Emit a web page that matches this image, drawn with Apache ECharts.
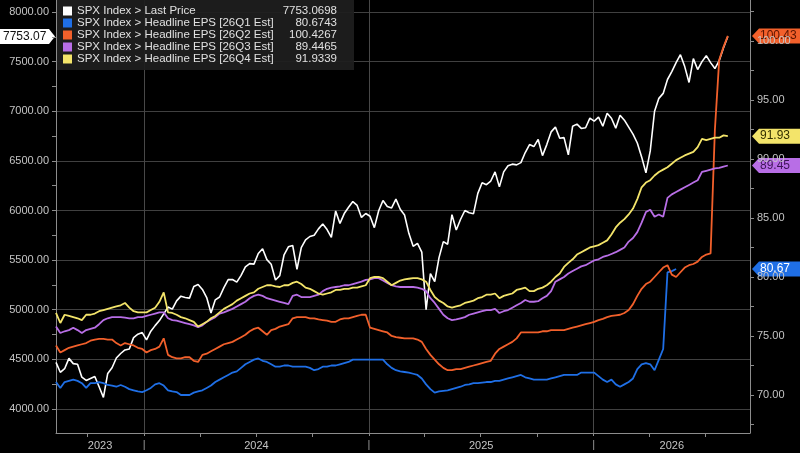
<!DOCTYPE html>
<html><head><meta charset="utf-8">
<script src="https://cdn.jsdelivr.net/npm/echarts@6/dist/echarts.min.js"></script>
<style>html,body{margin:0;padding:0;background:#000;}#c{width:800px;height:453px;}</style>
</head><body><div id="c"></div>
<script>
// ---------- data (weekly, starting 2023-08-11) ----------
const startDate = '2023-08-11';
const axisStart = '2023-08-11';
const axisEnd = '2026-09-12';
const seriesNames = [
  'SPX Index > Last Price',
  'SPX Index > Headline EPS [26Q1 Est]',
  'SPX Index > Headline EPS [26Q2 Est]',
  'SPX Index > Headline EPS [26Q3 Est]',
  'SPX Index > Headline EPS [26Q4 Est]'
];
const seriesColors = ['#ffffff', '#1f6fe6', '#f2602b', '#b86ee6', '#f3e46a'];
const lastValues = [7753.0698, 80.6743, 100.4267, 89.4465, 91.9339];

const price = [
  4470,4370,4406,4510,4457,4450,4320,4288,4308,4327,
  4224,4117,4358,4415,4514,4559,4595,4604,4719,4754,
  4770,4697,4784,4840,4891,4959,5027,5006,5089,5137,
  5124,5117,5234,5254,5204,5123,4967,5100,5128,5223,
  5303,5305,5278,5347,5431,5465,5460,5567,5615,5505,
  5459,5300,5344,5554,5634,5648,5408,5626,5703,5738,
  5751,5815,5864,5808,5729,5995,5870,5969,6032,6090,
  6051,5930,5970,5942,5827,5997,6101,6041,6026,6115,
  6013,5955,5770,5639,5668,5581,5000,5363,5283,5525,
  5686,5660,5958,5803,5912,6000,5977,5968,6173,6279,
  6260,6297,6389,6238,6389,6450,6467,6460,6482,6584,
  6664,6644,6716,6553,6664,6792,6840,6728,6734,6560,
  6849,6870,6827,6834,6930,6900,6940,6850,6980,6930,
  6830,6960,6910,6840,6770,6680,6540,6380,6600,7000,
  7130,7180,7320,7400,7490,7570,7450,7290,7530,7420,
  7500,7560,7490,7430,7510,7640,7753.07
];
const eps26Q1 = [
  71.1,70.6,71.1,71.2,71.3,71.2,71.0,70.6,71.0,71.0,
  71.1,71.0,70.85,70.8,70.7,70.85,70.7,70.5,70.4,70.3,
  70.25,70.4,70.6,70.9,71.0,70.8,70.4,70.3,70.25,70.0,
  70.0,70.0,70.2,70.3,70.4,70.6,70.8,71.1,71.3,71.5,
  71.7,71.9,72.0,72.3,72.6,72.8,73.0,73.1,72.9,72.8,
  72.6,72.4,72.4,72.5,72.5,72.4,72.4,72.4,72.4,72.3,
  72.1,72.2,72.4,72.4,72.5,72.5,72.6,72.7,72.8,73.0,
  73.0,73.0,73.0,73.0,73.0,73.0,73.0,72.6,72.3,72.1,
  72.0,71.95,71.9,71.8,71.7,71.4,70.9,70.5,70.2,70.3,
  70.35,70.4,70.5,70.6,70.7,70.85,70.9,71.0,71.0,71.05,
  71.1,71.1,71.2,71.2,71.3,71.4,71.5,71.6,71.7,71.5,
  71.4,71.3,71.3,71.3,71.3,71.4,71.5,71.6,71.7,71.7,
  71.7,71.7,71.9,71.9,71.9,71.9,71.6,71.3,71.1,71.3,
  70.9,70.7,70.9,71.1,71.4,72.2,72.6,72.7,72.6,72.1,
  73.0,73.9,80.4,80.5,80.6743
];
const eps26Q2 = [
  74.2,73.6,73.8,74.0,74.1,74.2,74.3,74.4,74.6,74.7,
  74.75,74.75,74.7,74.7,74.4,74.2,74.4,74.3,74.2,74.0,
  73.9,73.6,73.8,73.9,74.1,74.8,73.4,73.2,73.1,73.1,
  73.2,73.2,72.9,72.8,73.4,73.5,73.7,73.9,74.1,74.3,
  74.4,74.5,74.7,74.9,75.1,75.4,75.6,75.7,75.4,75.1,
  75.5,75.6,75.8,75.9,76.0,76.5,76.6,76.6,76.6,76.5,
  76.5,76.4,76.35,76.3,76.2,76.2,76.4,76.5,76.5,76.6,
  76.7,76.8,76.8,75.7,75.6,75.5,75.4,75.3,75.0,74.9,
  74.85,74.8,74.8,74.8,74.7,74.5,73.9,73.4,73.0,72.6,
  72.3,72.1,72.1,72.2,72.2,72.3,72.4,72.5,72.6,72.7,
  72.8,72.9,73.5,73.9,74.1,74.3,74.5,74.8,75.3,75.3,
  75.3,75.3,75.3,75.4,75.4,75.5,75.5,75.5,75.5,75.6,
  75.7,75.8,75.9,76.0,76.1,76.2,76.35,76.45,76.6,76.7,
  76.75,76.8,76.95,77.2,77.7,78.4,79.0,79.4,79.6,80.0,
  80.4,80.8,81.0,80.2,80.0,80.4,80.8,81.0,81.1,81.3,
  81.7,81.9,82.0,92.5,98.4,99.5,100.4267
];
const eps26Q3 = [
  75.8,75.25,75.4,75.5,75.7,75.5,75.25,75.5,75.6,75.7,
  76.0,76.35,76.5,76.6,76.6,76.6,76.55,76.5,76.5,76.6,
  76.6,76.7,76.8,76.9,77.0,77.0,76.5,76.35,76.3,76.2,
  76.1,76.0,75.9,75.75,75.9,76.2,76.4,76.6,76.9,77.0,
  77.15,77.3,77.5,77.7,77.9,78.2,78.4,78.5,78.4,78.2,
  78.1,78.0,77.9,77.8,77.7,78.4,78.5,78.3,78.3,78.3,
  78.4,78.5,78.8,79.0,79.1,79.15,79.2,79.3,79.3,79.4,
  79.5,79.6,79.75,79.8,79.9,79.9,79.7,79.5,79.3,79.2,
  79.15,79.15,79.15,79.15,79.1,79.0,78.8,78.2,77.8,77.3,
  76.8,76.5,76.35,76.4,76.5,76.6,76.8,76.9,77.0,77.1,
  77.2,77.2,77.3,76.95,77.1,77.2,77.4,77.6,77.8,78.05,
  77.9,77.9,77.95,78.2,78.4,78.8,79.6,79.8,80.0,80.3,
  80.5,80.7,80.9,81.0,81.2,81.4,81.5,81.7,81.8,81.95,
  82.1,82.3,82.5,83.0,83.3,83.8,84.6,85.5,85.7,85.1,
  85.3,85.1,86.7,87.0,87.2,87.4,87.6,87.8,88.0,88.2,
  88.9,89.0,89.1,89.2,89.25,89.35,89.4465
];
const eps26Q4 = [
  76.95,76.1,76.8,76.7,76.6,76.5,76.35,76.8,76.8,76.9,
  77.1,77.2,77.3,77.4,77.5,77.6,77.8,77.4,77.1,77.0,
  77.0,77.0,77.2,77.4,77.9,78.7,77.0,76.95,76.8,76.6,
  76.5,76.35,76.2,75.8,76.0,76.2,76.5,76.7,77.0,77.3,
  77.5,77.7,78.0,78.2,78.4,78.6,78.7,79.0,79.15,79.3,
  79.3,79.2,79.15,79.3,79.3,79.5,79.6,79.4,79.1,79.0,
  78.8,78.6,78.5,78.6,78.7,78.9,78.9,79.0,79.0,79.1,
  79.1,79.2,79.3,79.9,80.0,80.0,79.9,79.6,79.3,79.5,
  79.7,79.8,79.85,79.9,79.9,79.8,79.6,78.9,78.3,78.0,
  77.8,77.5,77.4,77.5,77.6,77.8,77.9,78.0,78.2,78.3,
  78.5,78.5,78.6,78.2,78.4,78.5,78.6,78.9,79.0,79.1,
  78.8,78.8,79.0,79.1,79.3,79.6,80.0,80.3,80.85,81.2,
  81.5,81.9,82.1,82.3,82.5,82.6,82.7,82.9,83.1,83.6,
  84.2,84.6,84.9,85.3,85.8,86.6,87.6,88.0,88.2,88.6,
  88.9,89.1,89.3,89.6,89.9,90.1,90.3,90.45,90.6,91.0,
  91.7,91.6,91.7,91.8,91.8,92.0,91.9339
];

// ---------- axis ticks ----------
const priceLabelValues = [4000,4500,5000,5500,6000,6500,7000,7500,8000];
const priceMinorTicks = [4250,4750,5250,5750,6250,6750,7250,7750];
const priceRange = [3758, 8121];
const epsLabelValues = [70,75,80,85,90,95,100];
const epsTickValues = [67.5,70,72.5,75,77.5,80,82.5,85,87.5,90,92.5,95,97.5,100,102.5];
const epsRange = [66.78, 103.47];
const yearBoundaries = ['2024-01-01','2025-01-01','2026-01-01'];
const quarterStarts = ['2023-10-01','2024-04-01','2024-07-01','2024-10-01','2025-04-01','2025-07-01','2025-10-01','2026-04-01','2026-07-01'];
const yearLabels = [2023, 2024, 2025, 2026];

// ---------- helpers ----------
function toYear(ts) {
  const d = new Date(ts);
  const y = d.getUTCFullYear();
  const s = Date.UTC(y, 0, 1), e = Date.UTC(y + 1, 0, 1);
  return y + (d.getTime() - s) / (e - s);
}
const parse = s => Date.parse(s + 'T00:00:00Z');
const t0 = parse(startDate);
const weekX = price.map((_, i) => toYear(t0 + i * 7 * 86400000));
const xMin = toYear(parse(axisStart));
const xMax = toYear(parse(axisEnd));
const yearVals = yearBoundaries.map(s => toYear(parse(s)));
const quarterVals = quarterStarts.map(s => toYear(parse(s)));
const yearLabelPos = yearLabels.map(y => (Math.max(y, xMin) + Math.min(y + 1, xMax)) / 2);

const pair = arr => arr.map((v, i) => [weekX[i], v]);
const FONT = '"Liberation Sans", Arial, sans-serif';
const AX = '#8c8c8c';
const LBL = '#c4c4c4';

const chart = echarts.init(document.getElementById('c'));
const allData = [price, eps26Q1, eps26Q2, eps26Q3, eps26Q4];

chart.setOption({
  backgroundColor: '#000000',
  animation: false,
  grid: { left: 56, right: 50, top: 0, bottom: 20, containLabel: false },
  legend: {
    left: 57, top: 0, orient: 'vertical', selectedMode: false,
    backgroundColor: 'rgba(30,30,30,0.93)',
    padding: [5, 17, 5, 6], itemGap: 0, itemWidth: 9, itemHeight: 9, icon: 'rect',
    data: seriesNames,
    formatter: name => {
      const k = seriesNames.indexOf(name);
      return '{n|' + name + '}{v|' + lastValues[k].toFixed(4) + '}';
    },
    textStyle: {
      color: '#e0e0e0', fontSize: 11.5, fontFamily: FONT,
      rich: {
        n: { width: 200, color: '#e0e0e0', fontSize: 11.5, fontFamily: FONT, lineHeight: 14 },
        v: { width: 60, align: 'right', color: '#e0e0e0', fontSize: 11.5, fontFamily: FONT, lineHeight: 14 }
      }
    }
  },
  xAxis: [
    {
      type: 'value', min: xMin, max: xMax, position: 'bottom',
      axisLine: { show: true, lineStyle: { color: AX, width: 1 } },
      axisTick: { show: true, customValues: yearVals, length: 3, lineStyle: { color: AX } },
      splitLine: { show: true, lineStyle: { color: '#484848', width: 1 } },
      axisLabel: { show: true, customValues: yearVals, formatter: () => '|', color: '#9a9a9a', fontSize: 11, fontFamily: FONT, margin: 6 }
    },
    {
      type: 'value', min: xMin, max: xMax, position: 'bottom',
      axisLine: { show: false },
      axisTick: { show: true, customValues: quarterVals, length: 4, lineStyle: { color: AX } },
      splitLine: { show: false },
      axisLabel: { show: true, customValues: yearLabelPos, formatter: v => String(Math.floor(v)), color: LBL, fontSize: 11, fontFamily: FONT, margin: 7 }
    }
  ],
  yAxis: [
    {
      type: 'value', min: priceRange[0], max: priceRange[1], position: 'left',
      axisLine: { show: true, lineStyle: { color: AX } },
      axisTick: { show: true, customValues: priceLabelValues, length: 4, lineStyle: { color: AX } },
      splitLine: { show: true, lineStyle: { color: '#404040', width: 1 } },
      axisLabel: { show: true, customValues: priceLabelValues, formatter: v => v.toFixed(2), color: LBL, fontSize: 11, fontFamily: FONT, margin: 7 }
    },
    {
      type: 'value', min: epsRange[0], max: epsRange[1], position: 'right',
      axisLine: { show: true, lineStyle: { color: AX } },
      axisTick: { show: true, customValues: epsTickValues, length: 4, lineStyle: { color: AX } },
      splitLine: { show: false },
      axisLabel: { show: true, customValues: epsLabelValues, formatter: v => v.toFixed(2), color: LBL, fontSize: 11, fontFamily: FONT, margin: 7 }
    },
    {
      type: 'value', min: priceRange[0], max: priceRange[1], position: 'left',
      axisLine: { show: false },
      axisTick: { show: true, customValues: priceMinorTicks, length: 4, lineStyle: { color: AX } },
      splitLine: { show: false },
      axisLabel: { show: false }
    }
  ],
  series: allData.map((arr, k) => ({
    name: seriesNames[k],
    type: 'line',
    xAxisIndex: 0,
    yAxisIndex: k === 0 ? 0 : 1,
    data: pair(arr),
    showSymbol: false,
    symbol: 'none',
    z: 2,
    lineStyle: { color: seriesColors[k], width: k === 0 ? 1.6 : 1.8 },
    itemStyle: { color: seriesColors[k] }
  }))
});

// ---------- value tags on the axes ----------
const tagText = ['#111111', '#ffffff', '#5a1400', '#3d1556', '#333000'];
const els = [];
const py = chart.convertToPixel({ xAxisIndex: 0, yAxisIndex: 0 }, [xMin, lastValues[0]]);
els.push({
  type: 'group', x: 0, y: py[1], z: 100,
  children: [
    { type: 'polygon', shape: { points: [[0,-7.5],[49,-7.5],[55,0],[49,7.5],[0,7.5]] }, style: { fill: '#ffffff' } },
    { type: 'text', x: 3, y: 0, style: { text: lastValues[0].toFixed(2), fill: tagText[0], font: '12px ' + FONT, verticalAlign: 'middle', align: 'left' } }
  ]
});
for (let k = 1; k < 5; k++) {
  const p = chart.convertToPixel({ xAxisIndex: 0, yAxisIndex: 1 }, [xMax, lastValues[k]]);
  els.push({
    type: 'group', x: p[0] + 2, y: p[1], z: 100,
    children: [
      { type: 'polygon', shape: { points: [[0,0],[7,-7.5],[50,-7.5],[50,7.5],[7,7.5]] }, style: { fill: seriesColors[k] } },
      { type: 'text', x: 8, y: 0, style: { text: lastValues[k].toFixed(2), fill: tagText[k], font: '12px ' + FONT, verticalAlign: 'middle', align: 'left' } }
    ]
  });
}
chart.setOption({ graphic: { elements: els } });
</script>
</body></html>
